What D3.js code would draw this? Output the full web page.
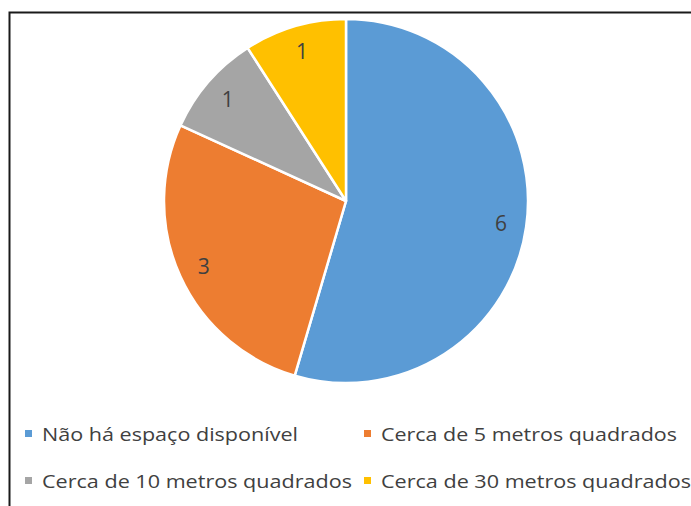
<!DOCTYPE html>
<html>
<head>
	<meta charset="utf-8" />
	<style>
		body { margin: 0; background: #fff; }
		svg { display: block; }
	</style>
</head>
<body>
	<script src="https://cdn.jsdelivr.net/npm/d3@7/dist/d3.min.js"></script>
	<script>
		// data
		const categories = ["Não há espaço disponível", "Cerca de 5 metros quadrados", "Cerca de 10 metros quadrados", "Cerca de 30 metros quadrados"];
		const values = [6, 3, 1, 1];
		const colors = ["#5B9BD5", "#ED7D31", "#A5A5A5", "#FFC000"];

		const W = 691, H = 506;
		const cx = 346, cy = 201, r = 182;
		const font = "'Open Sans', 'Noto Sans', sans-serif";

		var svg = d3.select("body").append("svg")
			.attr("width", W)
			.attr("height", H);

		// chart frame (cropped at right and bottom)
		svg.append("rect")
			.attr("x", 9.5).attr("y", 12.5)
			.attr("width", W + 20).attr("height", H + 20)
			.attr("fill", "#fff")
			.attr("stroke", "#1a1a1a")
			.attr("stroke-width", 2);

		var pie = d3.pie().sort(null).value(d => d);
		var arcs = pie(values);
		var arc = d3.arc().innerRadius(0).outerRadius(r);
		var labelArc = d3.arc().innerRadius(r * 0.86).outerRadius(r * 0.86);

		var g = svg.append("g").attr("transform", `translate(${cx},${cy})`);

		g.selectAll("path")
			.data(arcs)
			.join("path")
			.attr("d", arc)
			.attr("fill", (d, i) => colors[i])
			.attr("stroke", "#fff")
			.attr("stroke-width", 2.5)
			.attr("stroke-linejoin", "round");

		g.selectAll("text")
			.data(arcs)
			.join("text")
			.attr("x", d => labelArc.centroid(d)[0])
			.attr("y", d => labelArc.centroid(d)[1])
			.attr("text-anchor", "middle")
			.attr("dominant-baseline", "central")
			.attr("font-family", font)
			.attr("font-size", 21)
			.attr("fill", "#404040")
			.text(d => d.data);

		// legend, two columns
		const legX = [25, 364], legY = [441, 488];
		const legW = [256, 296, 310, 310];
		var leg = svg.selectAll(".leg")
			.data(categories)
			.join("g")
			.attr("class", "leg")
			.attr("transform", (d, i) => `translate(${legX[i % 2]},${legY[Math.floor(i / 2)]})`);

		leg.append("rect")
			.attr("x", 0).attr("y", -11)
			.attr("width", 7).attr("height", 7)
			.attr("fill", (d, i) => colors[i]);

		leg.append("text")
			.attr("x", 17)
			.attr("font-family", font)
			.attr("font-size", 18.5)
			.attr("fill", "#404040")
			.attr("textLength", (d, i) => legW[i])
			.attr("lengthAdjust", "spacingAndGlyphs")
			.text(d => d);
	</script>
</body>
</html>
